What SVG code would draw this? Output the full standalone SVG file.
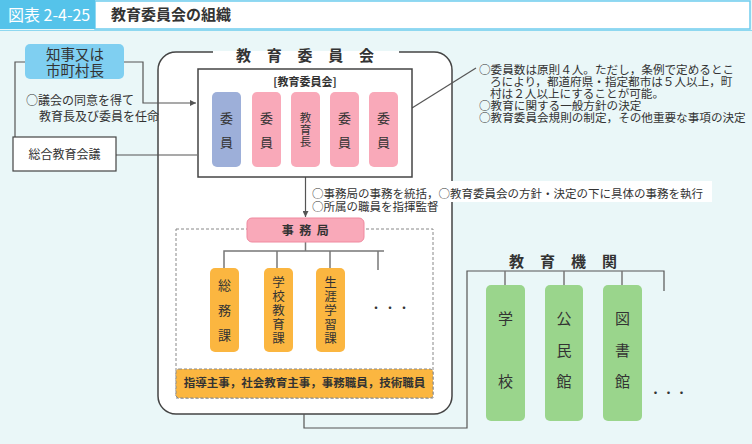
<svg xmlns="http://www.w3.org/2000/svg" width="752" height="444" viewBox="0 0 752 444">
<defs>
<style>
text{font-family:"Noto Sans CJK JP","Noto Sans",sans-serif;fill:#333;}
.b{font-weight:bold;}
.ln{fill:none;stroke:#555;stroke-width:1.2;}
.tr{fill:none;stroke:#777;stroke-width:1.5;}
.v{font-size:13px;text-anchor:middle;}
.v5{font-size:12.5px;text-anchor:middle;}
.v2{font-size:11.5px;text-anchor:middle;}
.g{font-size:15px;text-anchor:middle;}
.t12{font-size:12px;}
.tn{font-size:11.6px;}
</style>
<marker id="ar" viewBox="0 0 6 6" refX="6" refY="3" markerWidth="6" markerHeight="6" orient="auto" markerUnits="userSpaceOnUse"><path d="M0,0L6,3L0,6z" fill="#555"/></marker>
</defs>
<rect x="0" y="0" width="752" height="444" fill="#eaf7f8"/>
<g id="header">
<rect x="95" y="1" width="655" height="28" fill="#fff" stroke="#6fcdee" stroke-width="1.5"/>
<rect x="0" y="0" width="95" height="29" fill="#55c3ea"/>
<text x="8" y="21" style="font-size:16px;fill:#fff;">図表 2-4-25</text>
<text x="111" y="20" class="b" style="font-size:15px;">教育委員会の組織</text>
<line x1="0" y1="30.5" x2="752" y2="30.5" stroke="#8ed8f0" stroke-width="1"/>
</g>
<g id="board-outer">
<rect x="158" y="52" width="294" height="362" rx="18" fill="#fff" stroke="#444" stroke-width="1.5"/>
<rect x="213" y="48" width="186" height="8" fill="#eaf7f8"/>
<rect x="213" y="51" width="186" height="6" fill="#fff"/>
<rect x="449" y="181" width="263" height="21" fill="#fff"/>
<text x="313" y="61" class="b" style="font-size:15px;text-anchor:middle;letter-spacing:15.75px;">教育委員会</text>
</g>
<g id="connectors">
<polyline class="ln" points="25,62 15,62 15,137"/>
<polyline class="ln" points="124,62 143,62 143,103 196,103" marker-end="url(#ar)"/>
<line class="ln" x1="116" y1="155" x2="197" y2="155"/>
<line class="ln" x1="412" y1="108" x2="476" y2="68"/>
<line class="ln" x1="305.5" y1="167" x2="305.5" y2="217" marker-end="url(#ar)"/>
<polyline class="tr" points="305.5,242 305.5,251"/>
<polyline class="tr" points="224,268 224,251 384,251"/>
<line class="tr" x1="277" y1="251" x2="277" y2="268"/>
<line class="tr" x1="330" y1="251" x2="330" y2="268"/>
<line class="tr" x1="378" y1="251" x2="378" y2="270"/>
<polyline class="ln" points="304,414 304,428 467,428 467,271 664,271 664,291"/>
<line class="tr" x1="505" y1="271" x2="505" y2="285"/>
<line class="tr" x1="564" y1="271" x2="564" y2="285"/>
<line class="tr" x1="622" y1="271" x2="622" y2="285"/>
</g>
<g id="governor">
<rect x="25" y="44" width="99" height="35" rx="5" fill="#7fcff1"/>
<text x="75" y="60" style="font-size:14.5px;text-anchor:middle;">知事又は</text>
<text x="75" y="76" style="font-size:14.5px;text-anchor:middle;">市町村長</text>
</g>
<g id="appoint-note">
<text x="26" y="105" class="t12">○議会の同意を得て</text>
<text x="39" y="121" class="t12">教育長及び委員を任命</text>
</g>
<g id="sogo">
<rect x="13" y="137" width="103" height="34" fill="#fff" stroke="#444" stroke-width="1.2"/>
<text x="64.5" y="159" class="t12" style="text-anchor:middle;">総合教育会議</text>
</g>
<g id="board-inner">
<rect x="198" y="69" width="214" height="108" fill="#fff" stroke="#444" stroke-width="1.5"/>
<text x="305" y="86" class="b" style="font-size:11px;text-anchor:middle;">[教育委員会]</text>
</g>
<g id="member1"><rect x="212" y="92" width="29" height="75" rx="5" fill="#9dafd9"/><text class="v" x="226.5" y="123">委</text><text class="v" x="226.5" y="147">員</text></g>
<g id="member2"><rect x="252" y="92" width="29" height="75" rx="5" fill="#f9a9b9"/><text class="v" x="266.5" y="123">委</text><text class="v" x="266.5" y="147">員</text></g>
<g id="kyoikucho"><rect x="291" y="92" width="29" height="75" rx="5" fill="#f9a9b9"/><text class="v2" x="305.5" y="122">教</text><text class="v2" x="305.5" y="134">育</text><text class="v2" x="305.5" y="146">長</text></g>
<g id="member3"><rect x="330" y="92" width="29" height="75" rx="5" fill="#f9a9b9"/><text class="v" x="344.5" y="123">委</text><text class="v" x="344.5" y="147">員</text></g>
<g id="member4"><rect x="369" y="92" width="29" height="75" rx="5" fill="#f9a9b9"/><text class="v" x="383.5" y="123">委</text><text class="v" x="383.5" y="147">員</text></g>
<g id="board-note">
<text x="479" y="74" class="tn">○委員数は原則４人。ただし，条例で定めるとこ</text>
<text x="490" y="86" class="tn">ろにより，都道府県・指定都市は５人以上，町</text>
<text x="490" y="98" class="tn">村は２人以上にすることが可能。</text>
<text x="479" y="110" class="tn">○教育に関する一般方針の決定</text>
<text x="479" y="122" class="tn">○教育委員会規則の制定，その他重要な事項の決定</text>
</g>
<g id="office-note">
<text x="312" y="198" style="font-size:11.5px;">○事務局の事務を統括，○教育委員会の方針・決定の下に具体の事務を執行</text>
<text x="312" y="211" style="font-size:11.5px;">○所属の職員を指揮監督</text>
</g>
<g id="office-area">
<rect x="176" y="229" width="257" height="169" fill="none" stroke="#888" stroke-width="1" stroke-dasharray="3,2"/>
</g>
<g id="jimukyoku">
<rect x="247" y="218" width="117" height="24" rx="5" fill="#f9a9b9" stroke="#f0899f" stroke-width="1"/>
<text x="308" y="235" class="b" style="font-size:12px;text-anchor:middle;letter-spacing:5.5px;">事務局</text>
</g>
<g id="somuka"><rect x="210" y="268" width="29" height="84" rx="5" fill="#fbb640"/><text class="v" x="224.5" y="290">総</text><text class="v" x="224.5" y="315">務</text><text class="v" x="224.5" y="340">課</text></g>
<g id="gakkoka"><rect x="264" y="268" width="29" height="84" rx="5" fill="#fbb640"/><text class="v5" x="278.5" y="287">学</text><text class="v5" x="278.5" y="301">校</text><text class="v5" x="278.5" y="315">教</text><text class="v5" x="278.5" y="329">育</text><text class="v5" x="278.5" y="343">課</text></g>
<g id="shogaika"><rect x="316" y="268" width="29" height="84" rx="5" fill="#fbb640"/><text class="v5" x="330.5" y="287">生</text><text class="v5" x="330.5" y="301">涯</text><text class="v5" x="330.5" y="315">学</text><text class="v5" x="330.5" y="329">習</text><text class="v5" x="330.5" y="343">課</text></g>
<text x="391" y="313" style="font-size:12px;text-anchor:middle;letter-spacing:2px;">・・・</text>
<g id="staff">
<rect x="176" y="369" width="257" height="29" rx="3" fill="#fbb640" stroke="#888" stroke-width="1" stroke-dasharray="3,2"/>
<text x="304.5" y="387" class="b" style="font-size:11.5px;text-anchor:middle;">指導主事，社会教育主事，事務職員，技術職員</text>
</g>
<text x="571" y="267" class="b" style="font-size:15px;text-anchor:middle;letter-spacing:16px;">教育機関</text>
<g id="gakko"><rect x="486" y="285" width="39" height="136" rx="5" fill="#9ad58c"/><text class="g" x="505.5" y="324">学</text><text class="g" x="505.5" y="387">校</text></g>
<g id="kominkan"><rect x="545" y="285" width="38" height="136" rx="5" fill="#9ad58c"/><text class="g" x="564" y="324">公</text><text class="g" x="564" y="356">民</text><text class="g" x="564" y="387">館</text></g>
<g id="toshokan"><rect x="603" y="285" width="39" height="136" rx="5" fill="#9ad58c"/><text class="g" x="622.5" y="324">図</text><text class="g" x="622.5" y="356">書</text><text class="g" x="622.5" y="387">館</text></g>
<text x="669" y="398" style="font-size:12px;text-anchor:middle;letter-spacing:1px;">・・・</text>
</svg>
